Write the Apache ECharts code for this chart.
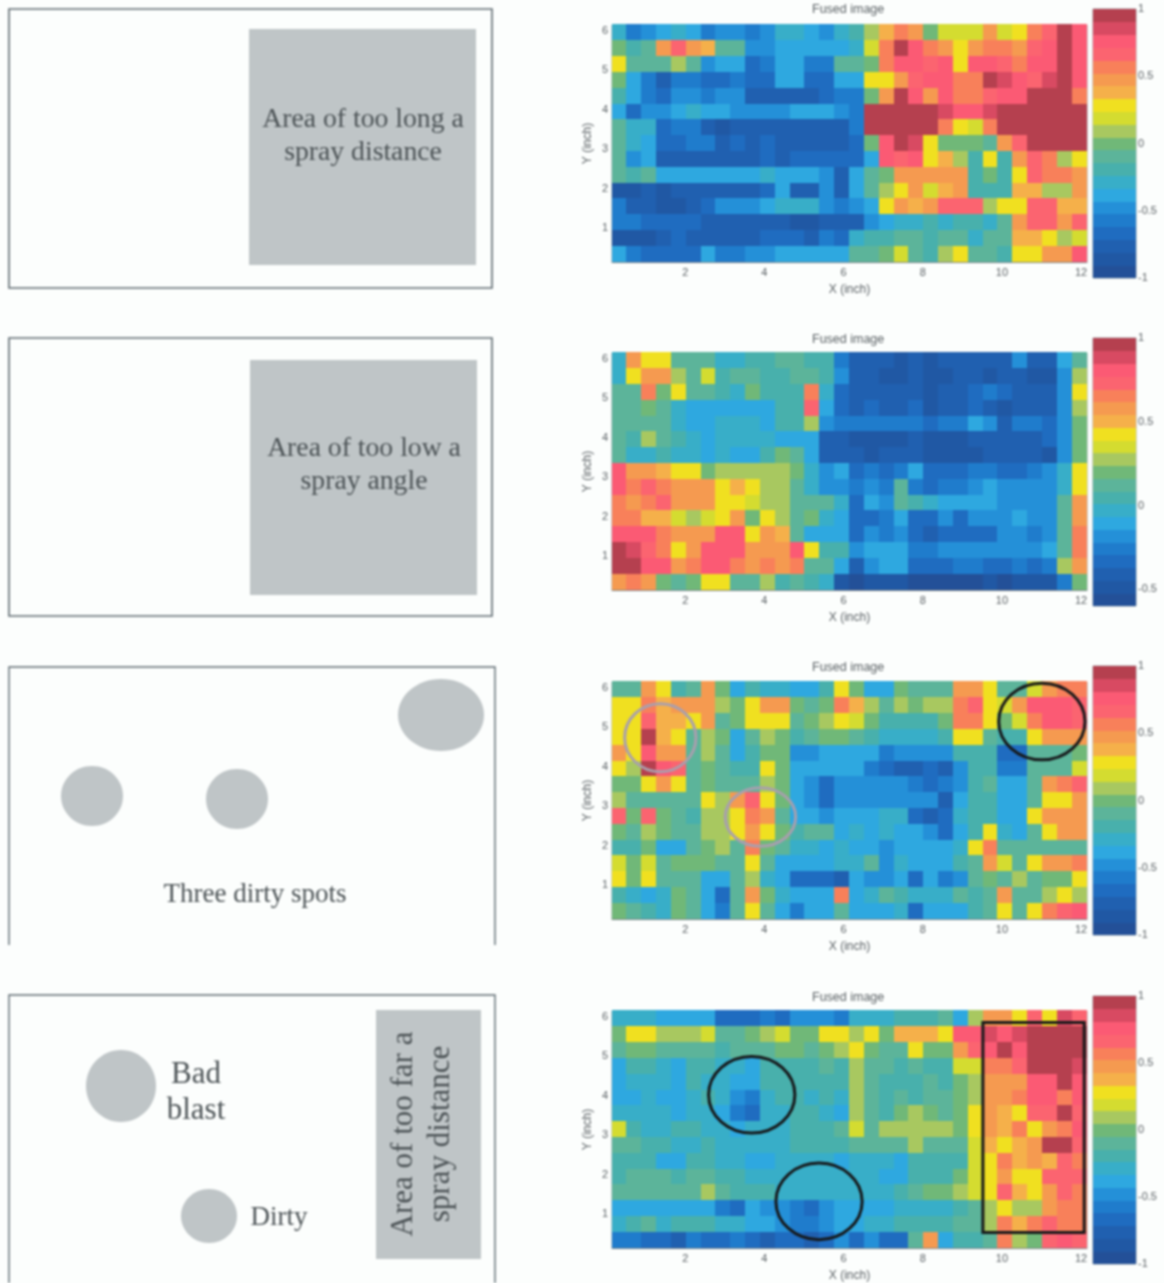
<!DOCTYPE html>
<html><head><meta charset="utf-8">
<style>html,body{margin:0;padding:0;background:#fcfefd;overflow:hidden}#chart{width:1164px;height:1283px;filter:blur(1px)}</style>
<script src="https://cdn.jsdelivr.net/npm/echarts@6/dist/echarts.min.js"></script>
</head><body><div id="chart"></div>
<script>
// Cell values in tenths of the colour scale (-10 .. 10), top row first.
const fused1 = [
[-3,-6,-5,-4,-3,-4,-6,-5,-5,-6,-5,-3,-3,-4,-5,-3,-2,1,4,6,5,0,2,2,2,5,2,3,6,7,10,8],
[0,-2,-1,5,7,5,4,-1,-1,-5,-5,-4,-4,-4,-4,-4,-3,2,6,10,8,6,5,3,5,6,6,5,7,8,10,8],
[3,-1,-1,-1,1,-1,-5,-4,-4,-7,-6,-4,-4,-6,-6,-1,-1,0,6,8,8,7,8,3,8,8,7,6,8,8,10,8],
[0,-4,-6,-8,-6,-6,-7,-7,-6,-7,-7,-4,-4,-7,-7,-4,-4,3,3,5,7,8,8,6,6,10,9,8,7,9,10,8],
[-2,-4,-6,-7,-5,-5,-6,-5,-5,-8,-8,-8,-8,-8,-7,-6,-6,0,5,10,8,5,8,6,6,7,8,8,10,10,10,6],
[-4,-7,-5,-5,-4,-3,-4,-4,-5,-5,-5,-5,-4,-4,-4,-5,-6,10,10,10,10,10,9,8,8,9,10,10,10,10,10,10],
[-1,-3,-3,-7,-6,-6,-8,-9,-8,-8,-8,-8,-8,-8,-8,-8,-6,10,10,10,10,10,6,3,2,6,10,10,10,10,10,10],
[-1,-3,-4,-7,-7,-6,-6,-8,-7,-8,-7,-8,-8,-8,-8,-8,-7,0,8,10,9,3,0,0,0,-1,5,7,10,10,10,10],
[-1,-5,-4,-8,-8,-8,-8,-8,-8,-8,-7,-8,-7,-7,-7,-7,-7,-4,8,7,8,3,4,1,-2,3,-2,5,7,6,1,3],
[-1,-2,-1,-4,-4,-4,-4,-4,-4,-4,-3,-4,-4,-4,-5,-8,-4,-1,0,5,5,5,5,5,-2,0,-2,3,7,6,6,5],
[-9,-9,-8,-9,-8,-8,-8,-8,-8,-8,-7,-4,-8,-8,-5,-8,-4,-1,1,3,5,2,4,5,-2,-2,-2,4,4,1,1,5],
[-6,-8,-8,-9,-9,-8,-7,-5,-5,-5,-4,-3,-3,-3,-5,-6,-5,-4,3,5,4,5,7,7,7,1,3,3,7,7,4,4],
[-6,-6,-7,-7,-7,-7,-8,-8,-8,-8,-8,-8,-9,-9,-8,-8,-8,-5,-4,-3,-3,-2,-3,-2,-2,-3,-1,5,7,7,5,7],
[-9,-9,-9,-8,-7,-8,-8,-8,-8,-8,-7,-7,-7,-8,-6,-7,-3,-2,-2,-1,-1,-2,-1,-1,-3,-1,-1,4,4,3,1,2],
[-4,-6,-7,-7,-7,-7,-4,-6,-6,-5,-5,-4,-4,-4,-4,-4,-1,-1,0,2,-1,-2,1,3,-1,-1,-2,3,3,5,5,8]
];
const fused2 = [
[-3,5,3,3,-1,-1,-1,-3,-3,-2,-2,-1,-1,-2,-2,-6,-8,-8,-8,-9,-8,-9,-8,-8,-8,-8,-8,-5,-8,-8,-4,-1],
[-3,3,5,5,1,-1,2,-2,-1,-1,-2,-2,-1,-1,-2,-5,-8,-8,-9,-9,-8,-9,-9,-8,-8,-9,-8,-8,-9,-9,-5,1],
[-1,-1,6,0,3,-1,-1,-2,-3,0,-2,-2,-2,6,-3,-7,-8,-8,-8,-8,-8,-9,-8,-8,-7,-6,-7,-8,-8,-8,-5,3],
[-1,-1,0,-1,-3,-4,-4,-4,-4,-4,-4,-2,-2,7,-4,-7,-8,-7,-8,-8,-7,-9,-8,-8,-7,-8,-9,-8,-8,-8,-5,1],
[-1,-1,-1,-1,-3,-4,-4,-3,-3,-3,-4,-2,-2,1,-5,-6,-6,-6,-6,-6,-6,-7,-6,-6,-4,-5,-8,-6,-6,-7,-5,0],
[-1,-2,1,-1,-2,-3,-4,-3,-3,-3,-3,-4,-4,-4,-8,-8,-9,-9,-9,-9,-8,-9,-9,-9,-8,-8,-8,-8,-8,-7,-5,0],
[-1,-3,-3,-2,-3,-3,-4,-3,-4,-4,-2,0,-1,-4,-8,-8,-8,-9,-8,-8,-8,-9,-9,-9,-9,-8,-8,-8,-8,-9,-5,0],
[8,5,5,4,3,3,0,1,1,1,1,1,0,-3,-5,-4,-7,-6,-7,-6,-4,-7,-7,-7,-6,-6,-7,-7,-6,-5,-3,3],
[8,6,7,6,5,5,5,3,4,3,1,1,-1,-3,-5,-5,-6,-5,-6,-1,-6,-7,-6,-6,-5,-4,-5,-5,-5,-5,-3,3],
[6,5,6,7,5,5,5,3,3,2,1,1,-1,-1,-1,-3,-7,-4,-5,-1,-2,-3,-4,-4,-4,-4,-5,-5,-5,-5,-1,5],
[6,6,4,4,2,1,2,3,5,0,3,1,-1,0,-3,-4,-7,-7,-6,-4,-7,-7,-5,-7,-5,-5,-5,-4,-5,-5,-1,5],
[8,8,8,6,5,5,5,8,8,3,5,4,-1,-4,-4,-4,-7,-5,-6,-5,-7,-8,-7,-7,-7,-7,-5,-5,-6,-5,-1,6],
[10,9,7,6,3,5,8,8,8,5,5,5,8,3,-2,-2,-5,-4,-4,-4,-6,-6,-5,-5,-5,-5,-5,-5,-5,-4,-1,6],
[10,10,8,8,5,6,8,8,6,5,6,5,6,-1,-1,-4,-8,-5,-4,-4,-7,-7,-7,-6,-6,-7,-7,-6,-7,-6,1,5],
[5,6,5,0,-1,0,3,3,-1,-1,1,-2,-1,-2,-3,-9,-10,-9,-9,-9,-10,-10,-10,-10,-10,-9,-10,-9,-9,-9,-6,0]
];
const fused3 = [
[-1,-1,5,3,-2,-1,5,0,-4,-2,-3,-3,-4,-4,-2,3,0,-4,-4,0,-1,-1,-1,5,5,3,-1,-1,2,5,6,6],
[3,3,6,4,5,5,5,1,0,3,5,5,0,-1,0,6,4,1,-1,1,0,1,1,6,7,3,2,5,8,8,8,7],
[3,3,7,4,4,3,5,-1,0,3,3,3,-1,0,1,3,2,0,-2,-2,-2,-2,0,6,6,3,0,2,6,8,8,7],
[3,3,10,4,3,-1,1,0,-4,-1,1,0,-2,-1,0,0,-1,-2,-3,-3,-3,-3,-2,3,3,-1,-2,-2,3,5,5,5],
[5,3,8,5,5,-1,1,-1,-4,-2,0,0,-5,-5,-4,-4,-4,-4,-6,-5,-5,-5,-5,-2,-2,-2,-7,-7,-1,-1,-1,0],
[3,1,10,8,7,-1,0,-1,-2,-2,3,0,-4,-4,-4,-4,-4,-6,-7,-8,-8,-7,-8,-5,-2,-2,-6,-6,-1,-1,-1,2],
[0,0,3,5,3,-1,0,-1,-1,-1,1,0,-4,-5,-7,-5,-5,-5,-5,-5,-6,-7,-6,-5,-2,-1,-4,-4,-1,5,6,7],
[1,-1,-1,-1,-1,-1,3,1,5,7,3,0,-4,-5,-7,-5,-5,-5,-5,-5,-5,-5,-8,-4,-2,-2,-4,-4,-1,3,3,5],
[7,0,7,0,-1,-2,1,1,3,6,5,-1,-4,-4,-5,-4,-4,-4,-3,-3,-7,-8,-7,-3,-2,-2,-4,-4,3,5,5,5],
[0,-1,1,0,-1,-1,1,1,3,5,3,0,-2,-1,-1,-4,-3,-4,-3,-4,-4,-5,-7,-4,-2,3,-3,-4,-1,3,5,5],
[-2,-2,0,-4,-4,-1,0,1,-1,6,0,-1,-3,-3,-4,-3,-4,-4,-5,-4,-4,-4,-4,-3,3,6,-1,-1,-1,-1,-1,-1],
[2,0,2,-1,0,0,0,-1,-1,3,-1,-4,-4,-4,-4,-3,-3,-1,-5,-3,-4,-4,-4,-2,-1,5,2,-1,3,5,5,6],
[3,0,3,-1,-1,-1,-4,-4,-1,1,-3,-4,-7,-7,-7,-8,-4,-5,-5,-4,-7,-4,-6,-5,-1,0,-1,1,-1,0,0,3],
[-2,-3,-4,-3,0,-1,-4,-7,-1,5,0,-3,-4,-4,-4,6,-4,-3,-1,-2,-3,-3,-3,-1,-2,-1,5,-1,-1,1,3,1],
[0,-1,-2,-3,0,-1,-4,-6,-1,3,-1,-4,-6,-4,-4,-1,-4,-4,-4,-3,-7,-4,-4,-4,-2,-1,3,-1,3,6,7,8]
];
const fused4 = [
[-3,-3,-3,-4,-4,-4,-4,-7,-7,-7,-6,-7,-5,-5,-5,-6,-3,-3,-3,-2,-2,-2,-1,-4,1,5,5,3,7,3,9,7],
[0,3,3,1,1,1,2,-1,-1,0,1,2,0,0,3,3,1,3,0,4,4,4,3,8,8,9,8,9,10,10,10,10],
[-1,0,0,-1,-1,-1,-1,-2,-1,-1,-1,0,0,-1,0,1,3,0,-1,-1,3,0,0,5,7,8,10,8,10,10,10,10],
[-4,-2,-2,-3,-4,-2,-2,-3,-3,-4,-2,-2,-2,-2,-1,-2,1,-1,-1,-2,-1,-2,-2,2,2,6,6,7,10,10,10,9],
[-4,-3,-3,-3,-4,-2,-3,-3,-4,-4,-2,-2,-2,-2,-2,-2,1,-1,-2,-2,-2,-1,-2,0,1,5,5,5,8,8,10,8],
[-4,-4,-3,-4,-4,-3,-2,-3,-5,-6,-3,-2,-2,-3,-2,-3,1,-1,-2,-1,-2,-1,-1,0,1,5,5,6,8,8,6,8],
[-3,-3,-3,-3,-4,-3,-3,-4,-6,-7,-3,-3,-2,-2,-3,-4,1,-1,-2,0,1,0,-1,0,3,5,4,3,7,7,10,7],
[2,-2,-3,-3,-2,-2,-3,-3,-4,-3,-3,-3,-2,-2,-2,-1,2,-1,1,1,1,1,1,0,3,5,4,6,3,5,6,8],
[-1,-1,-2,-2,-3,-3,-2,-3,-3,-3,-3,-3,-2,-2,-2,-2,-1,-1,-1,-1,1,-1,-1,-1,2,4,3,4,5,10,10,7],
[-2,-2,-2,-4,-4,-2,-2,-3,-3,-4,-4,-3,-3,-3,-3,-4,-3,-3,-3,-4,-2,-2,-2,-2,2,3,6,4,5,4,7,6],
[-2,-1,-1,-1,-2,-1,-1,-2,-2,-3,-3,-3,-3,-3,-3,-3,-3,-3,-4,-4,-2,-2,-2,0,2,3,5,3,3,7,7,7],
[-1,-1,-1,-1,-1,-1,1,-1,-2,-2,-2,-3,-3,-3,-3,-3,-3,-3,-3,-2,-1,0,0,1,2,3,7,4,3,5,7,6],
[-4,-4,-4,-4,-4,-4,-4,-6,-7,-4,-5,-5,-6,-7,-5,-4,-4,-4,-4,-3,-3,-3,-3,-2,-1,1,3,1,1,5,6,6],
[-3,-2,-1,-3,-2,-2,-2,-3,-3,-4,-4,-5,-6,-6,-5,-4,-4,-3,-3,-2,-2,-2,-2,-1,-1,1,6,4,6,7,6,6],
[-6,-6,-7,-7,-8,-6,-7,-7,-6,-7,-8,-7,-7,-8,-7,-5,-7,-5,-7,-7,-1,5,-4,-2,-2,-1,6,1,0,7,8,7]
];
const xTicks = [2,4,6,8,10,12];
const yTicks = [1,2,3,4,5,6];
const colorbarTicks1 = [-1,-0.5,0,0.5,1];
const colorbarTicks2 = [-0.5,0,0.5,1];
const levels = [-10,-9,-8,-7,-6,-5,-4,-3,-2,-1,0,1,2,3,4,5,6,7,8,9,10];
const palette = ['#235098','#2058a4','#2060b0','#1f6cc0','#1f7ccc','#2490d8','#2ea8e0','#38aec8','#48b0ac','#5cb49a','#70b878','#a8c860','#d4dc30','#f0e020','#f5b04a','#f59a50','#f8805a','#fb6470','#fb5a74','#d84a62','#b5404f'];
// Overlays in inches: [cx, cy, rx, ry]
const grayEllipses3 = [[1.37,4.74,0.9,0.86],[3.9,2.73,0.89,0.74]];
const blackEllipses3 = [[11.01,5.15,1.09,0.97]];
const blackEllipses4 = [[3.68,4.03,1.09,0.97],[5.38,1.33,1.09,0.97]];
const blackBox4 = [[9.52,0.54,12.08,5.86]];
const titleText = 'Fused image', xName = 'X (inch)', yName = 'Y (inch)';
const X0 = 0.15, XSTEP = 0.375, Y0 = 0.15, YSTEP = 0.4;

const panels = [
 {vals:fused1, top:25, cbTop:9,  cbH:269, lo:-1,   cb:colorbarTicks1, titleY:3},
 {vals:fused2, top:353,cbTop:338,cbH:268, lo:-0.6, cb:colorbarTicks2, titleY:333},
 {vals:fused3, top:682,cbTop:666,cbH:269, lo:-1,   cb:colorbarTicks1, titleY:661},
 {vals:fused4, top:1011,cbTop:996,cbH:268,lo:-1,   cb:colorbarTicks1, titleY:991}
];
const grid=[],xAxis=[],yAxis=[],series=[],title=[];
const axisGray='#7c8488', textGray='#5a6064', sans='"Liberation Sans",Arial,sans-serif';
function bandRect(s,e,c){
  const x0=Math.floor(s[0]),y0=Math.floor(s[1]),x1=Math.ceil(e[0]),y1=Math.ceil(e[1]);
  return {type:'rect',shape:{x:x0,y:y0,width:x1-x0,height:y1-y0},style:{fill:c}};
}
function cellItem(p,a){
  const x=a.value(0),y=a.value(1),l=a.value(2);
  return bandRect(a.coord([x-XSTEP/2,y+YSTEP/2]),a.coord([x+XSTEP/2,y-YSTEP/2]),palette[l+10]);
}
function ellipseItem(color){return function(p,a){
  const c=a.coord([a.value(0),a.value(1)]),z=a.size([a.value(2),a.value(3)]);
  return {type:'ellipse',shape:{cx:c[0],cy:c[1],rx:z[0],ry:z[1]},style:{fill:'none',stroke:color,lineWidth:3}};
};}
function boxItem(p,a){
  const s=a.coord([a.value(0),a.value(3)]),e=a.coord([a.value(2),a.value(1)]);
  return {type:'rect',shape:{x:s[0],y:s[1],width:e[0]-s[0],height:e[1]-s[1]},style:{fill:'none',stroke:'#16181a',lineWidth:3}};
}
panels.forEach((P,i)=>{
  const gi=grid.length;
  grid.push({left:612,top:P.top,width:475,height:237,show:true,borderColor:'#9aa5a8',borderWidth:1,backgroundColor:'transparent'});
  xAxis.push({gridIndex:gi,type:'value',min:X0,max:X0+32*XSTEP,position:'bottom',name:xName,nameLocation:'middle',nameGap:22,
    nameTextStyle:{color:textGray,fontSize:12,fontFamily:sans},splitLine:{show:false},
    axisLine:{lineStyle:{color:axisGray}},axisTick:{customValues:xTicks,inside:true,length:3,lineStyle:{color:axisGray}},
    axisLabel:{customValues:xTicks,color:textGray,fontSize:11,fontFamily:sans,margin:5}});
  yAxis.push({gridIndex:gi,type:'value',min:Y0,max:Y0+15*YSTEP,name:yName,nameLocation:'middle',nameGap:18,nameRotate:90,
    nameTextStyle:{color:textGray,fontSize:12,fontFamily:sans},splitLine:{show:false},
    axisLine:{lineStyle:{color:axisGray}},axisTick:{customValues:yTicks,inside:true,length:3,lineStyle:{color:axisGray}},
    axisLabel:{customValues:yTicks,color:textGray,fontSize:11,fontFamily:sans,margin:4}});
  const data=[];
  P.vals.forEach((row,r)=>row.forEach((v,c)=>data.push([X0+(c+0.5)*XSTEP,Y0+(14-r+0.5)*YSTEP,v])));
  series.push({type:'custom',xAxisIndex:gi,yAxisIndex:gi,data,renderItem:cellItem,silent:true,animation:false,encode:{x:0,y:1},z:2});
  if(i===2){
    series.push({type:'custom',xAxisIndex:gi,yAxisIndex:gi,data:grayEllipses3,renderItem:ellipseItem('#a89fae'),silent:true,animation:false,encode:{x:0,y:1},z:3,clip:false});
    series.push({type:'custom',xAxisIndex:gi,yAxisIndex:gi,data:blackEllipses3,renderItem:ellipseItem('#16181a'),silent:true,animation:false,encode:{x:0,y:1},z:3,clip:false});
  }
  if(i===3){
    series.push({type:'custom',xAxisIndex:gi,yAxisIndex:gi,data:blackEllipses4,renderItem:ellipseItem('#16181a'),silent:true,animation:false,encode:{x:0,y:1},z:3,clip:false});
    series.push({type:'custom',xAxisIndex:gi,yAxisIndex:gi,data:blackBox4,renderItem:boxItem,silent:true,animation:false,encode:{x:0,y:1},z:3,clip:false});
  }
  title.push({text:titleText,left:812,top:P.titleY,padding:0,textStyle:{color:textGray,fontSize:12.5,fontWeight:'normal',fontFamily:sans}});
  // colour bar
  const ci=grid.length;
  grid.push({left:1093,top:P.cbTop,width:43,height:P.cbH,show:true,borderColor:'#9aa5a8',borderWidth:1});
  xAxis.push({gridIndex:ci,type:'value',min:0,max:1,show:false,splitLine:{show:false}});
  yAxis.push({gridIndex:ci,type:'value',position:'right',min:P.lo,max:1,splitLine:{show:false},axisLine:{show:false},
    axisTick:{show:false},axisLabel:{customValues:P.cb,color:textGray,fontSize:11,fontFamily:sans,margin:2}});
  const bh=(1-P.lo)/levels.length;
  series.push({type:'custom',xAxisIndex:ci,yAxisIndex:ci,silent:true,animation:false,encode:{x:0,y:1},z:2,
    data:levels.map((l,k)=>[0.5,P.lo+(k+0.5)*bh,l]),
    renderItem:(p,a)=>{const y=a.value(1);return bandRect(a.coord([0,y+bh/2]),a.coord([1,y-bh/2]),palette[a.value(2)+10]);}});
});

// Left-hand schematics
const serif='"Liberation Serif","Times New Roman",serif', ink='#4c5356', fill='#bfc5c7', frame='#5d6a70';
const fRect=(x,y,w,h)=>({type:'rect',shape:{x,y,width:w,height:h},style:{fill:'none',stroke:frame,lineWidth:1.6}});
const fOpen=(x0,y0,x1,y1)=>({type:'polyline',shape:{points:[[x0,y1],[x0,y0],[x1,y0],[x1,y1]]},style:{fill:'none',stroke:frame,lineWidth:1.4}});
const gRect=(x,y,w,h)=>({type:'rect',shape:{x,y,width:w,height:h},style:{fill}});
const gEll=(cx,cy,rx,ry)=>({type:'ellipse',shape:{cx,cy,rx,ry},style:{fill}});
const txt=(s,x,y,size,rot)=>({type:'text',x,y,rotation:rot||0,style:{text:s,fill:ink,font:size+'px '+serif,textAlign:'center',textVerticalAlign:'middle'}});
const graphic=[
 fRect(9,9,483,279),gRect(249,29,227,236),txt('Area of too long a',363,120,27.7),txt('spray distance',363,153,27.7),
 fRect(9,338,483,278),gRect(250,360,227,235),txt('Area of too low a',364,449,27.7),txt('spray angle',364,482,27.7),
 fOpen(9,667,495,945),gEll(441,715,43,36),gEll(92,796,31,30),gEll(237,799,31,30),txt('Three dirty spots',255,895,27),
 fOpen(9,995,495,1283),gEll(121,1086,35,36),gEll(209,1216,28,27),gRect(376,1010,105,249),
 txt('Bad',196,1075,31),txt('blast',196,1111,31),txt('Dirty',279,1218,27),
 txt('Area of too far a',404,1134,31,Math.PI/2),txt('spray distance',441,1134,31,Math.PI/2)
].map(g=>Object.assign(g,{silent:true,z:10}));

const chart=echarts.init(document.getElementById('chart'),null,{renderer:'canvas'});
chart.setOption({backgroundColor:'#fcfefd',animation:false,title,grid,xAxis,yAxis,series,graphic});
</script></body></html>
